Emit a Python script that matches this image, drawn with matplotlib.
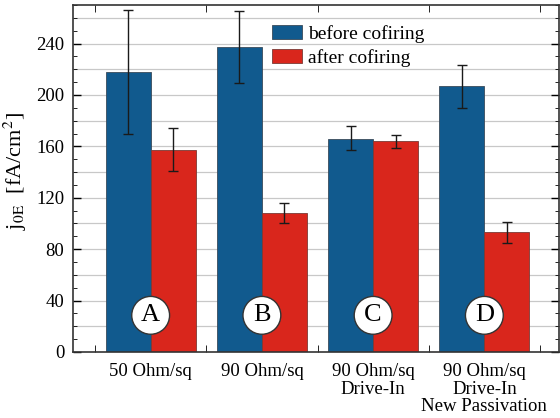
import matplotlib
matplotlib.use("Agg")
import matplotlib.pyplot as plt
import numpy as np
from matplotlib.ticker import MultipleLocator

categories = ["50 Ohm/sq", "90 Ohm/sq", "90 Ohm/sq\nDrive-In", "90 Ohm/sq\nDrive-In\nNew Passivation"]
letters = ["A", "B", "C", "D"]
before = [218, 237, 166, 207]
before_lo = [170, 209, 157, 190]
before_hi = [266, 265, 176, 223]
after = [157, 108, 164, 93]
after_lo = [141, 100, 159, 85]
after_hi = [174, 116, 169, 101]

plt.rcParams['font.family'] = ['Liberation Serif', 'DejaVu Serif']
plt.rcParams['mathtext.fontset'] = 'stix'

fig = plt.figure(figsize=(5.6, 4.18), dpi=100)
ax = fig.add_axes([0.130, 0.158, 0.868, 0.830])

x = np.arange(1, len(categories) + 1)
w = 0.405
blue = '#115a8e'
red = '#d9261c'

b_err = [np.array(before) - np.array(before_lo), np.array(before_hi) - np.array(before)]
a_err = [np.array(after) - np.array(after_lo), np.array(after_hi) - np.array(after)]

ax.bar(x - w/2, before, w, color=blue, edgecolor='#3a4a5a', linewidth=0.6, zorder=2,
       label='before cofiring')
ax.bar(x + w/2, after, w, color=red, edgecolor='#7a3a35', linewidth=0.6, zorder=2,
       label='after cofiring')
ax.errorbar(x - w/2, before, yerr=b_err, fmt='none', ecolor='#1a1a1a', elinewidth=1.0,
            capsize=3.5, capthick=1.0, zorder=3)
ax.errorbar(x + w/2, after, yerr=a_err, fmt='none', ecolor='#1a1a1a', elinewidth=1.0,
            capsize=3.5, capthick=1.0, zorder=3)

for xi, L in zip(x, letters):
    ax.text(xi, 28.5, L, ha='center', va='center', fontsize=19, zorder=5,
            bbox=dict(boxstyle='circle,pad=0.3', fc='white', ec='#333333', lw=1.0))

ax.set_xlim(0.3, 4.67)
ax.set_ylim(0, 270)
ax.yaxis.set_major_locator(MultipleLocator(40))
ax.yaxis.set_minor_locator(MultipleLocator(10))
for g in np.arange(20, 270, 20):
    ax.axhline(g, color='#c8c8c8', lw=0.9, zorder=0)

ax.set_xticks(x)
ax.set_xticklabels(categories, fontsize=13.5, linespacing=1.05)
ax.set_xticks(np.arange(0.5, 4.6, 0.5), minor=True)
ax.tick_params(axis='x', which='major', length=0, pad=8)
ax.tick_params(axis='x', which='minor', direction='in', length=5, top=True, bottom=True)
ax.tick_params(axis='y', which='major', direction='in', length=6, left=True, right=True,
               labelsize=13.5, width=1.0, pad=6)
ax.tick_params(axis='y', which='minor', direction='in', length=3, left=True, right=True)
for s in ax.spines.values():
    s.set_color('#333333')
    s.set_linewidth(1.2)

ax.set_ylabel(r'j$_{\mathrm{0E}}$  [fA/cm$^{2}$]', fontsize=16, labelpad=4)
ax.yaxis.set_label_coords(-0.09, 0.52)

ax.legend(loc='upper left', bbox_to_anchor=(0.41, 0.942), frameon=False, fontsize=14,
          handlelength=1.55, handleheight=0.7, handletextpad=0.3, labelspacing=0.3,
          borderaxespad=0.0, borderpad=0.0)

fig.savefig('out.png', dpi=100)
